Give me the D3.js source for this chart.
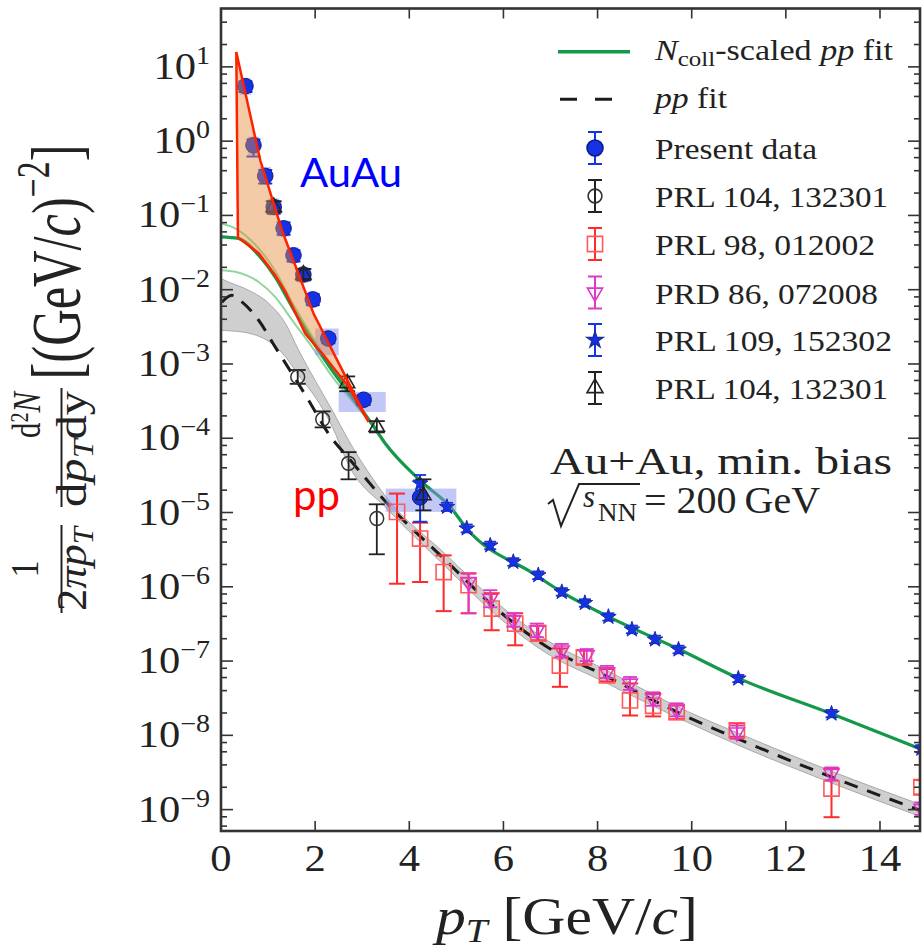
<!DOCTYPE html>
<html>
<head>
<meta charset="utf-8">
<script src="https://cdn.jsdelivr.net/npm/d3@7"></script>
<style>
body { margin: 0; background: #fff; }
svg { display: block; font-family: "Liberation Serif", "Times New Roman", serif; }
</style>
</head>
<body>
<svg id="chart" width="924" height="949"></svg>
<script>
// ---- data ----
var xTicks = [0, 2, 4, 6, 8, 10, 12, 14];
var yDecades = [1, 0, -1, -2, -3, -4, -5, -6, -7, -8, -9];

// Present data (blue circles)
var presPt    = [0.52, 0.69, 0.94, 1.12, 1.33, 1.54, 1.75, 1.95, 2.28, 3.03, 4.23];
var presY     = [5.5, 0.88, 0.34, 0.13, 0.067, 0.029, 0.016, 0.0074, 0.0022, 3.3e-4, 1.6e-5];
var presErrLo = [4.6, 0.62, 0.27, 0.105, 0.055, 0.024, 0.0133, 0.0062, 0.0019, 2.8e-4, 7.5e-6];
var presErrHi = [6.4, 1.05, 0.41, 0.155, 0.080, 0.034, 0.019, 0.0087, 0.0025, 3.8e-4, 2.7e-5];
var presSysLo = [4.2, 0.65, 0.26, 0.10, 0.052, 0.023, 0.0125, 0.0058, 1.31e-3, 2.26e-4, 1.02e-5];
var presSysHi = [7.0, 1.15, 0.45, 0.17, 0.085, 0.037, 0.020, 0.0094, 3.0e-3, 4.2e-4, 2.1e-5];
var presBinLo = [0.40, 0.57, 0.82, 1.00, 1.21, 1.42, 1.63, 1.83, 2.0, 2.5, 3.5];
var presBinHi = [0.64, 0.81, 1.06, 1.24, 1.45, 1.66, 1.87, 2.07, 2.5, 3.5, 5.0];

// PRL 104, 132301 (open circles)
var prl104cPt = [1.63, 2.16, 2.71, 3.31];
var prl104cY  = [6.7e-4, 1.8e-4, 4.6e-5, 8.3e-6];
var prl104cLo = [5.4e-4, 1.4e-4, 2.8e-5, 2.74e-6];
var prl104cHi = [8.3e-4, 2.3e-4, 6.5e-5, 1.29e-5];

// PRL 98, 012002 (open squares)
var prl98Pt = [3.74, 4.23, 4.73, 5.26, 5.75, 6.25, 6.74, 7.20, 7.71, 8.20, 8.69, 9.18, 9.68, 10.96, 12.97, 14.88];
var prl98Y  = [1.02e-5, 4.46e-6, 1.58e-6, 1.05e-6, 5.1e-7, 3.2e-7, 2.35e-7, 8.7e-8, 1.12e-7, 6.4e-8, 2.95e-8, 2.5e-8, 2.06e-8, 1.17e-8, 1.92e-9, 2.0e-9];
var prl98Lo = [1.1e-6, 1.16e-6, 4.7e-7, 4.4e-7, 2.6e-7, 1.63e-7, 1.9e-7, 4.5e-8, 9.0e-8, 5.3e-8, 1.85e-8, 1.8e-8, 1.65e-8, 9.5e-9, 7.9e-10, 1.6e-9];
var prl98Hi = [1.8e-5, 7.3e-6, 2.65e-6, 1.52e-6, 8.2e-7, 4.4e-7, 3.0e-7, 1.48e-7, 1.4e-7, 7.8e-8, 5.0e-8, 3.7e-8, 2.55e-8, 1.45e-8, 3.6e-9, 2.5e-9];

// PRD 86, 072008 (down triangles)
var prd86Pt = [5.26, 5.72, 6.21, 6.71, 7.24, 7.77, 8.20, 8.69, 9.18, 9.68, 10.96, 12.97, 14.88];
var prd86Y  = [1.16e-6, 6.95e-7, 3.55e-7, 2.6e-7, 1.4e-7, 1.2e-7, 7.1e-8, 5.0e-8, 3.1e-8, 2.2e-8, 1.1e-8, 3.05e-9, 1.03e-9];
var prd86Lo = [4.4e-7, 5.3e-7, 2.9e-7, 2.1e-7, 1.15e-7, 1.0e-7, 5.9e-8, 4.1e-8, 2.5e-8, 1.8e-8, 9.0e-9, 2.5e-9, 8.5e-10];
var prd86Hi = [1.5e-6, 9.0e-7, 4.4e-7, 3.2e-7, 1.7e-7, 1.45e-7, 8.6e-8, 6.1e-8, 3.8e-8, 2.7e-8, 1.35e-8, 3.7e-9, 1.25e-9];

// PRL 109, 152302 (stars)
var prl109Pt = [4.23, 4.80, 5.22, 5.72, 6.21, 6.74, 7.24, 7.73, 8.23, 8.73, 9.22, 9.72, 10.99, 12.97, 14.88];
var prl109Y  = [2.45e-5, 1.19e-5, 6.1e-6, 3.6e-6, 2.16e-6, 1.43e-6, 8.5e-7, 6.05e-7, 3.93e-7, 2.66e-7, 1.95e-7, 1.43e-7, 5.8e-8, 1.96e-8, 6.6e-9];
var prl109Lo = [1.8e-5, 1.05e-5, 5.4e-6, 3.2e-6, 1.92e-6, 1.27e-6, 7.6e-7, 5.4e-7, 3.5e-7, 2.37e-7, 1.74e-7, 1.27e-7, 5.2e-8, 1.75e-8, 5.9e-9];
var prl109Hi = [3.2e-5, 1.35e-5, 6.9e-6, 4.05e-6, 2.43e-6, 1.61e-6, 9.6e-7, 6.8e-7, 4.4e-7, 3.0e-7, 2.2e-7, 1.61e-7, 6.5e-8, 2.2e-8, 7.4e-9];

// PRL 104, 132301 (open up triangles)
var prl104tPt = [1.12, 1.75, 2.68, 3.31, 4.30];
var prl104tY  = [0.13, 0.016, 5.5e-4, 1.42e-4, 1.7e-5];
var prl104tLo = [0.11, 0.0135, 4.3e-4, 1.2e-4, 1.07e-5];
var prl104tHi = [0.155, 0.019, 6.8e-4, 1.7e-4, 2.8e-5];

// pp fit (dashed) and its uncertainty band
var ppFitPt = [0.02, 0.23, 0.45, 0.8, 1.15, 1.51, 1.86, 2.28, 2.75, 3.53, 4.77, 5.8, 6.93, 8.07, 9.91, 11.05, 12.96, 14.85];
var ppFitY  = [0.0068, 0.0084, 0.0068, 0.00388, 0.0017, 7.4e-4, 3.25e-4, 1.16e-4, 5.06e-5, 1.33e-5, 2.28e-6, 5.4e-7, 1.55e-7, 6.8e-8, 1.77e-8, 8.6e-9, 2.76e-9, 9.8e-10];
var bandPt = [0, 0.16, 0.59, 1.02, 1.37, 1.65, 2.0, 2.36, 2.71, 3.53, 4.77, 5.8, 6.93, 8.07, 9.91, 11.05, 12.96, 14.85];
var bandHi = [0.0141, 0.0127, 0.0098, 0.0065, 0.0035, 0.00153, 6.0e-4, 2.4e-4, 9.4e-5, 1.55e-5, 2.75e-6, 6.6e-7, 1.9e-7, 8.2e-8, 2.1e-8, 1.03e-8, 3.3e-9, 1.18e-9];
var bandLo = [0.00284, 0.0028, 0.0026, 0.0020, 0.00125, 7.0e-4, 3.6e-4, 1.45e-4, 4.4e-5, 1.12e-5, 1.87e-6, 4.4e-7, 1.26e-7, 5.5e-8, 1.5e-8, 7.1e-9, 2.3e-9, 8.1e-10];

// Ncoll-scaled pp fit (green) and its thin band edges
var ncollPt = [0, 0.37, 0.8, 1.15, 1.51, 1.93, 2.36, 2.78, 3.2, 3.49, 4.23, 4.87, 5.22, 6.64, 7.24, 8.25, 9.74, 11.01, 12.97, 14.85];
var ncollY  = [0.0514, 0.0489, 0.0291, 0.01486, 0.00586, 0.0021, 8.2e-4, 3.6e-4, 1.58e-4, 8.5e-5, 2.7e-5, 1.19e-5, 6.1e-6, 1.5e-6, 8.5e-7, 3.9e-7, 1.43e-7, 5.8e-8, 1.95e-8, 6.6e-9];
var ncollEdgePt = [0, 0.3, 0.8, 1.15, 1.51, 1.93, 2.36, 2.78, 3.2];
var ncollEdgeHi = [0.078, 0.067, 0.036, 0.018, 0.0068, 0.0024, 9.0e-4, 3.8e-4, 1.6e-4];
var ncollEdgeLo = [0.0183, 0.0174, 0.0127, 0.008, 0.0039, 0.0017, 6.8e-4, 3.2e-4, 1.55e-4];

// AuAu region (polygon outline)
var auauPt = [0.325, 0.834, 1.295, 1.966, 3.134, 2.71, 2.21, 1.79, 1.37, 1.15, 0.8, 0.36];
var auauY  = [15.9, 0.553, 0.0632, 0.00477, 1.66e-4, 4.9e-4, 1.24e-3, 2.57e-3, 9.3e-3, 0.0157, 0.031, 0.0505];

var legendLabels = ["Present data", "PRL 104, 132301", "PRL 98, 012002", "PRD 86, 072008", "PRL 109, 152302", "PRL 104, 132301"];

// ---- layout ----
var svg = d3.select("#chart");
var plotL = 221, plotR = 920, plotT = 8.5, plotB = 831;
var x = d3.scaleLinear().domain([0, 14.85]).range([plotL, plotR]);
var y = d3.scaleLog().domain([Math.pow(10, -9.288), Math.pow(10, 1.786)]).range([plotB, plotT]);

var blue = "#1533e6", sqRed = "#ff5a5a", errRed = "#ff2a2a", mag = "#dd38c8", green = "#14994a";

svg.append("clipPath").attr("id", "clip")
  .append("rect").attr("x", plotL).attr("y", plotT).attr("width", plotR - plotL).attr("height", plotB - plotT);
var plot = svg.append("g").attr("clip-path", "url(#clip)");

function zip(a, b) { return a.map(function(d, i) { return [d, b[i]]; }); }
var line = d3.line().x(function(d) { return x(d[0]); }).y(function(d) { return y(d[1]); }).curve(d3.curveMonotoneX);

// gray band
var bandData = bandPt.map(function(d, i) { return {p: d, lo: bandLo[i], hi: bandHi[i]}; });
plot.append("path").datum(bandData)
  .attr("d", d3.area().x(function(d) { return x(d.p); }).y0(function(d) { return y(d.lo); }).y1(function(d) { return y(d.hi); }).curve(d3.curveMonotoneX))
  .attr("fill", "#cfcfcf").attr("stroke", "#a9a9a9").attr("stroke-width", 1);
plot.append("path").datum(zip(ppFitPt, ppFitY)).attr("d", line)
  .attr("fill", "none").attr("stroke", "#1c1c1c").attr("stroke-width", 3).attr("stroke-dasharray", "14,10");

// green lines
[ncollEdgeHi, ncollEdgeLo].forEach(function(arr) {
  plot.append("path").datum(zip(ncollEdgePt, arr)).attr("d", line)
    .attr("fill", "none").attr("stroke", "#8fd69c").attr("stroke-width", 2);
});
plot.append("path").datum(zip(ncollPt, ncollY)).attr("d", line)
  .attr("fill", "none").attr("stroke", green).attr("stroke-width", 3.2);

// systematic boxes of present data
presPt.forEach(function(p, i) {
  plot.append("rect")
    .attr("x", x(presBinLo[i])).attr("width", x(presBinHi[i]) - x(presBinLo[i]))
    .attr("y", y(presSysHi[i])).attr("height", y(presSysLo[i]) - y(presSysHi[i]))
    .attr("fill", "#8890ee").attr("fill-opacity", 0.5);
});

function errBars(g, px, lo, hi, color, cap, w) {
  px.forEach(function(p, i) {
    var cx = x(p);
    g.append("line").attr("x1", cx).attr("x2", cx).attr("y1", y(lo[i])).attr("y2", y(hi[i]))
      .attr("stroke", color).attr("stroke-width", w);
    [lo[i], hi[i]].forEach(function(v) {
      g.append("line").attr("x1", cx - cap).attr("x2", cx + cap).attr("y1", y(v)).attr("y2", y(v))
        .attr("stroke", color).attr("stroke-width", w);
    });
  });
}
function markers(g, px, py, type, size, fill, stroke, sw, rot) {
  g.selectAll(null).data(px).enter().append("path")
    .attr("d", d3.symbol().type(type).size(size))
    .attr("transform", function(d, i) { return "translate(" + x(d) + "," + y(py[i]) + ")" + (rot ? " rotate(" + rot + ")" : ""); })
    .attr("fill", fill).attr("stroke", stroke).attr("stroke-width", sw);
}

// red squares
errBars(plot, prl98Pt, prl98Lo, prl98Hi, errRed, 8, 2);
markers(plot, prl98Pt, prl98Y, d3.symbolSquare, 230, "none", sqRed, 1.6);
// magenta down triangles
errBars(plot, prd86Pt, prd86Lo, prd86Hi, mag, 7, 1.8);
markers(plot, prd86Pt, prd86Y, d3.symbolTriangle, 95, "none", mag, 1.6, 180);
// black open circles
errBars(plot, prl104cPt, prl104cLo, prl104cHi, "#222", 8, 1.8);
markers(plot, prl104cPt, prl104cY, d3.symbolCircle, 150, "none", "#333", 1.5);
// blue stars
errBars(plot, prl109Pt, prl109Lo, prl109Hi, blue, 6, 1.8);
markers(plot, prl109Pt, prl109Y, d3.symbolStar, 75, blue, "#1a2aa8", 1);
// present data
errBars(plot, presPt, presErrLo, presErrHi, blue, 7, 2);
markers(plot, presPt, presY, d3.symbolCircle, 190, blue, "#0c1a8a", 1);
// black triangles
errBars(plot, prl104tPt, prl104tLo, prl104tHi, "#222", 8, 1.8);
markers(plot, prl104tPt, prl104tY, d3.symbolTriangle, 100, "none", "#222", 1.6);

// AuAu polygon
var poly = zip(auauPt, auauY).map(function(d) { return x(d[0]) + "," + y(d[1]); }).join(" ");
plot.append("polygon").attr("points", poly)
  .attr("fill", "#e68c3c").attr("fill-opacity", 0.45)
  .attr("stroke", "#ff2200").attr("stroke-width", 2.5).attr("stroke-linejoin", "miter");

// ---- frame and ticks ----
var axisColor = "#333";
svg.append("rect").attr("x", plotL).attr("y", plotT).attr("width", plotR - plotL).attr("height", plotB - plotT)
  .attr("fill", "none").attr("stroke", axisColor).attr("stroke-width", 2.6);
xTicks.slice(1).forEach(function(v) {
  svg.append("line").attr("x1", x(v)).attr("x2", x(v)).attr("y1", plotB).attr("y2", plotB - 10).attr("stroke", axisColor).attr("stroke-width", 1.6);
  svg.append("line").attr("x1", x(v)).attr("x2", x(v)).attr("y1", plotT).attr("y2", plotT + 10).attr("stroke", axisColor).attr("stroke-width", 1.6);
});
var minorMult = [2, 4, 6, 8];
for (var e = -10; e <= 1; e++) {
  var vals = [{v: Math.pow(10, e), len: 12}].concat(minorMult.map(function(m) { return {v: m * Math.pow(10, e), len: 6}; }));
  vals.forEach(function(t) {
    var py = y(t.v);
    if (py < plotT + 1 || py > plotB - 1) return;
    svg.append("line").attr("x1", plotL).attr("x2", plotL + t.len).attr("y1", py).attr("y2", py).attr("stroke", axisColor).attr("stroke-width", 1.6);
    svg.append("line").attr("x1", plotR).attr("x2", plotR - t.len).attr("y1", py).attr("y2", py).attr("stroke", axisColor).attr("stroke-width", 1.6);
  });
}

// tick labels
yDecades.forEach(function(e) {
  var t = svg.append("text")
    .attr("transform", "translate(210," + (y(Math.pow(10, e)) + 12) + ") scale(1.12,1)")
    .attr("text-anchor", "end").attr("font-size", 38).attr("fill", "#222");
  t.append("tspan").text("10");
  t.append("tspan").attr("font-size", 25).attr("dy", -15).text(e < 0 ? "\u2212" + (-e) : e);
});
xTicks.forEach(function(v) {
  svg.append("text").attr("transform", "translate(" + x(v) + ",871) scale(1.12,1)")
    .attr("text-anchor", "middle").attr("font-size", 38).attr("fill", "#222").text(v);
});

// x title
var xt = svg.append("text").attr("x", 436).attr("y", 934).attr("font-size", 52).attr("fill", "#222")
  .attr("textLength", 262).attr("lengthAdjust", "spacingAndGlyphs");
xt.append("tspan").attr("font-style", "italic").text("p");
xt.append("tspan").attr("font-style", "italic").attr("font-size", 34).attr("dy", 8).text("T");
xt.append("tspan").attr("dy", -8).text(" [GeV/");
xt.append("tspan").attr("font-style", "italic").text("c");
xt.append("tspan").text("]");

// y title (rotated pieces)
function rot(sx, sy) { return "translate(" + sx + "," + sy + ") rotate(-90) scale(1,1.18)"; }
svg.append("text").attr("transform", rot(38, 569)).attr("text-anchor", "middle").attr("font-size", 34).attr("fill", "#222").text("1");
svg.append("line").attr("x1", 61.5).attr("x2", 61.5).attr("y1", 525).attr("y2", 613).attr("stroke", "#222").attr("stroke-width", 2);
var d1 = svg.append("text").attr("transform", rot(86, 569)).attr("text-anchor", "middle").attr("font-size", 36).attr("fill", "#222")
  .attr("textLength", 84).attr("lengthAdjust", "spacingAndGlyphs");
d1.append("tspan").text("2");
d1.append("tspan").attr("font-style", "italic").text("\u03c0p");
d1.append("tspan").attr("font-style", "italic").attr("font-size", 25).attr("dy", 6).text("T");
var n2 = svg.append("text").attr("transform", rot(40, 415)).attr("text-anchor", "middle").attr("font-size", 34).attr("fill", "#222")
  .attr("textLength", 46).attr("lengthAdjust", "spacingAndGlyphs");
n2.append("tspan").text("d");
n2.append("tspan").attr("font-size", 22).attr("dy", -10).text("2");
n2.append("tspan").attr("font-style", "italic").attr("dy", 10).text("N");
svg.append("line").attr("x1", 61.5).attr("x2", 61.5).attr("y1", 388).attr("y2", 507).attr("stroke", "#222").attr("stroke-width", 2);
var d2 = svg.append("text").attr("transform", rot(86, 449)).attr("text-anchor", "middle").attr("font-size", 36).attr("fill", "#222")
  .attr("textLength", 116).attr("lengthAdjust", "spacingAndGlyphs");
d2.append("tspan").text("d");
d2.append("tspan").attr("font-style", "italic").text("p");
d2.append("tspan").attr("font-style", "italic").attr("font-size", 25).attr("dy", 6).text("T");
d2.append("tspan").attr("dy", -6).text("dy");
var ut = svg.append("text").attr("transform", rot(80, 262)).attr("text-anchor", "middle").attr("font-size", 60).attr("fill", "#222")
  .attr("textLength", 235).attr("lengthAdjust", "spacingAndGlyphs");
ut.append("tspan").text("[(GeV/");
ut.append("tspan").attr("font-style", "italic").text("c");
ut.append("tspan").text(")");
ut.append("tspan").attr("font-size", 40).attr("dy", -26).text("\u22122");
ut.append("tspan").attr("dy", 26).text("]");

// annotations
svg.append("text").attr("x", 300).attr("y", 187).attr("font-family", "Lato, 'Open Sans', sans-serif").attr("font-size", 41)
  .attr("fill", "#0000ff").attr("textLength", 102).attr("lengthAdjust", "spacingAndGlyphs").text("AuAu");
svg.append("text").attr("x", 293).attr("y", 510).attr("font-family", "Lato, 'Open Sans', sans-serif").attr("font-size", 42)
  .attr("fill", "#ff0000").attr("textLength", 47).attr("lengthAdjust", "spacingAndGlyphs").text("pp");
svg.append("text").attr("x", 550).attr("y", 474).attr("font-size", 38).attr("fill", "#222")
  .attr("textLength", 342).attr("lengthAdjust", "spacingAndGlyphs").text("Au+Au, min. bias");
svg.append("path").attr("d", "M548,504 L553,500 L561,526 L579,484 L640,484")
  .attr("fill", "none").attr("stroke", "#222").attr("stroke-width", 2);
svg.append("text").attr("x", 583).attr("y", 507).attr("font-size", 31).attr("font-style", "italic").attr("fill", "#222").text("s");
svg.append("text").attr("x", 598).attr("y", 521).attr("font-size", 25).attr("fill", "#222")
  .attr("textLength", 39).attr("lengthAdjust", "spacingAndGlyphs").text("NN");
svg.append("text").attr("x", 644).attr("y", 513).attr("font-size", 37).attr("fill", "#222")
  .attr("textLength", 176).attr("lengthAdjust", "spacingAndGlyphs").text("= 200\u2009GeV");

// ---- legend ----
var lg = svg.append("g");
lg.append("line").attr("x1", 558).attr("x2", 630).attr("y1", 51.7).attr("y2", 51.7).attr("stroke", green).attr("stroke-width", 3.5);
lg.append("line").attr("x1", 560).attr("x2", 612).attr("y1", 99.3).attr("y2", 99.3).attr("stroke", "#1c1c1c").attr("stroke-width", 3).attr("stroke-dasharray", "17,18");
var t1 = lg.append("text").attr("x", 655).attr("y", 60).attr("font-size", 30).attr("fill", "#222")
  .attr("textLength", 238).attr("lengthAdjust", "spacingAndGlyphs");
t1.append("tspan").attr("font-style", "italic").text("N");
t1.append("tspan").attr("font-size", 22).attr("dy", 6).text("coll");
t1.append("tspan").attr("dy", -6).text("-scaled ");
t1.append("tspan").attr("font-style", "italic").text("pp");
t1.append("tspan").text(" fit");
var t2 = lg.append("text").attr("x", 655).attr("y", 108).attr("font-size", 30).attr("fill", "#222")
  .attr("textLength", 72).attr("lengthAdjust", "spacingAndGlyphs");
t2.append("tspan").attr("font-style", "italic").text("pp");
t2.append("tspan").text(" fit");

var legendRowY = [148, 196, 244, 292.5, 340, 388];
var legendW = [162, 233, 220, 223, 237, 233];
var legendSty = [
  {type: d3.symbolCircle, size: 200, fill: blue, stroke: "#0c1a8a", err: blue, rot: 0},
  {type: d3.symbolCircle, size: 150, fill: "none", stroke: "#333", err: "#222", rot: 0},
  {type: d3.symbolSquare, size: 230, fill: "none", stroke: sqRed, err: errRed, rot: 0},
  {type: d3.symbolTriangle, size: 100, fill: "none", stroke: mag, err: mag, rot: 180},
  {type: d3.symbolStar, size: 75, fill: blue, stroke: "#1a2aa8", err: blue, rot: 0},
  {type: d3.symbolTriangle, size: 110, fill: "none", stroke: "#222", err: "#222", rot: 0}
];
legendLabels.forEach(function(lab, i) {
  var cy = legendRowY[i], s = legendSty[i];
  lg.append("line").attr("x1", 595).attr("x2", 595).attr("y1", cy - 16).attr("y2", cy + 16).attr("stroke", s.err).attr("stroke-width", 2);
  [cy - 16, cy + 16].forEach(function(v) {
    lg.append("line").attr("x1", 588).attr("x2", 602).attr("y1", v).attr("y2", v).attr("stroke", s.err).attr("stroke-width", 2);
  });
  lg.append("path").attr("d", d3.symbol().type(s.type).size(s.size))
    .attr("transform", "translate(595," + cy + ")" + (s.rot ? " rotate(" + s.rot + ")" : ""))
    .attr("fill", s.fill).attr("stroke", s.stroke).attr("stroke-width", 1.6);
  lg.append("text").attr("x", 655).attr("y", cy + 11).attr("font-size", 30).attr("fill", "#222")
    .attr("textLength", legendW[i]).attr("lengthAdjust", "spacingAndGlyphs").text(lab);
});
</script>
</body>
</html>
